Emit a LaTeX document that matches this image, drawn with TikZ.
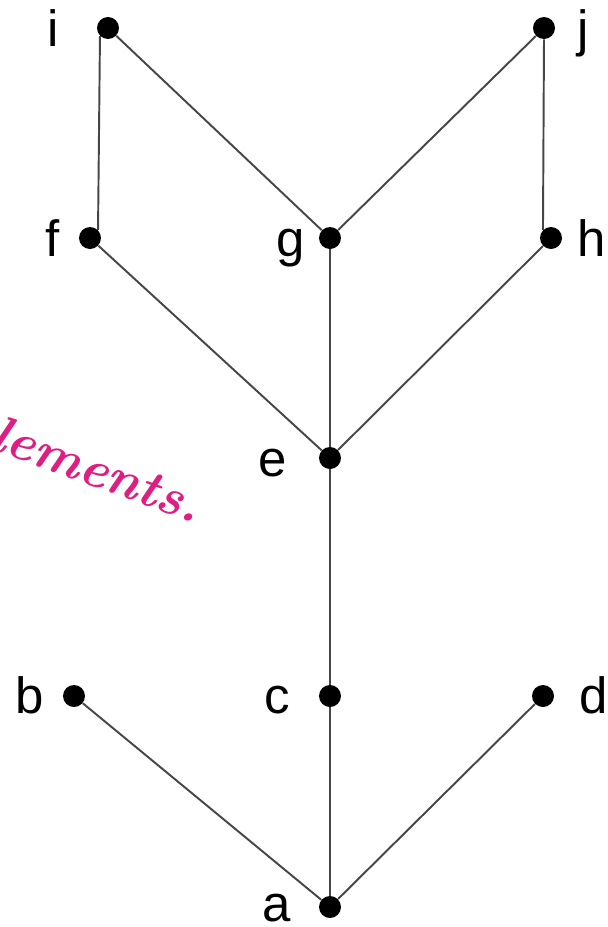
\documentclass[tikz,border=0pt]{standalone}
\usepackage{fontspec}
\newfontfamily\labelfont{Liberation Sans}
\usetikzlibrary{positioning}
\definecolor{edgegray}{RGB}{70,70,70}
\definecolor{inkpink}{RGB}{222,30,128}

\begin{document}
\begin{tikzpicture}[x=0.02cm,y=-0.02cm,vert/.style={circle,fill=black,inner sep=0pt,minimum size=0.44cm},lbl/.style={anchor=base,inner sep=0pt,font=\labelfont\fontsize{29}{30}\selectfont},edge/.style={draw=edgegray,line width=1.1pt}]
\useasboundingbox (0,0) rectangle (608,927);
% vertices
\node[vert] (i) at (108,28) {};
\node[vert] (j) at (544,28) {};
\node[vert] (f) at (90,238) {};
\node[vert] (g) at (330,238) {};
\node[vert] (h) at (551,238) {};
\node[vert] (e) at (330,458) {};
\node[vert] (b) at (74,696) {};
\node[vert] (c) at (330,696) {};
\node[vert] (d) at (543,696) {};
\node[vert] (a) at (330,907) {};
% labels
\node[lbl] (li) at (53,46) {i};
\node[lbl] (lj) at (583,46) {j};
\node[lbl] (lf) at (53,256) {f};
\node[lbl] (lg) at (291,256) {g};
\node[lbl] (lh) at (592,256) {h};
\node[lbl] (le) at (273,476) {e};
\node[lbl] (lb) at (30,713) {b};
\node[lbl] (lc) at (277,713) {c};
\node[lbl] (ld) at (594,713) {d};
\node[lbl] (la) at (277,921) {a};
% edges
\draw[edge] (i.225)--(f.45);\draw[edge] (i)--(g);
\draw[edge] (j)--(g);\draw[edge] (j.south)--(h.135);
\draw[edge] (f)--(e);\draw[edge] (g)--(e);\draw[edge] (h)--(e);
\draw[edge] (e)--(c);
\draw[edge] (b)--(a);\draw[edge] (c)--(a);\draw[edge] (d)--(a);
% handwritten note
\node[anchor=base west,rotate=-20,inner sep=0pt,text=inkpink,font=\itshape\bfseries\fontsize{30}{32}\selectfont] (note) at (-12,448) {lements.};
\end{tikzpicture}
\end{document}
